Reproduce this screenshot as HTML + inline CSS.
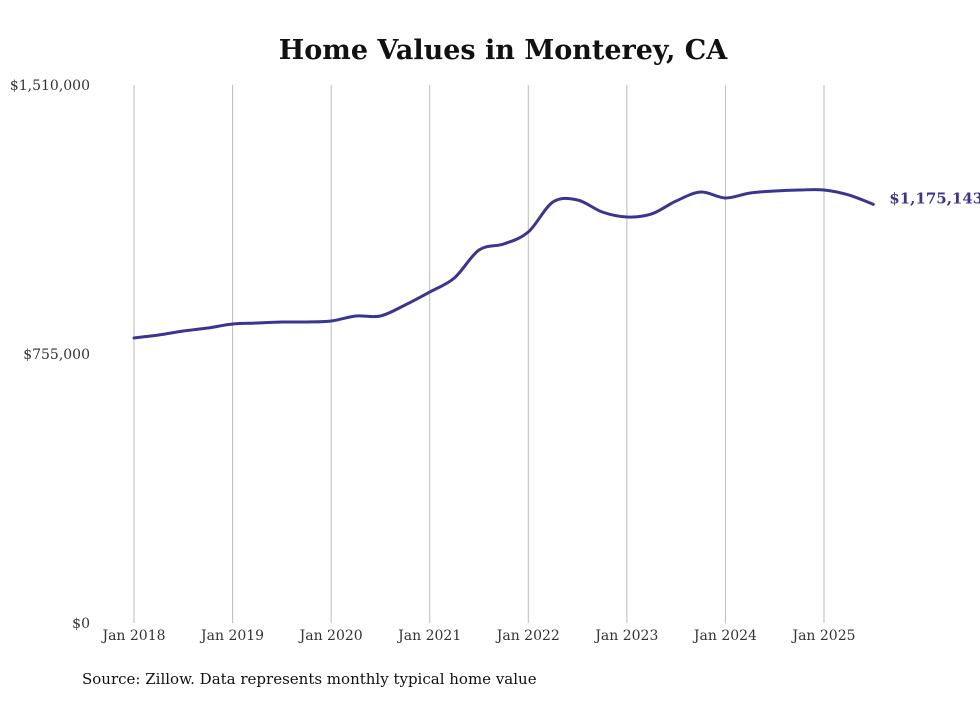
<!DOCTYPE html>
<html><head><meta charset="utf-8"><style>
body{margin:0;background:#fff;}
svg text{font-family:"DejaVu Serif",serif;}
</style></head><body>
<svg width="980" height="699" viewBox="0 0 980 699">
<text x="503" y="59" text-anchor="middle" font-size="27" font-weight="bold" fill="#111">Home Values in Monterey, CA</text>
<g id="grid"></g>
<g id="yaxis"></g>
<g id="xaxis"></g>
<path id="line" fill="none" stroke="#3b3591" stroke-width="3" stroke-linejoin="round" stroke-linecap="round"/>
<text id="endlabel" font-size="15" font-weight="bold" fill="#3b3591"></text>
<text x="82" y="684" font-size="15" fill="#111">Source: Zillow. Data represents monthly typical home value</text>
</svg>
<script>
const months=[0,3,6,9,12,15,18,21,24,27,30,33,36,39,42,45,48,51,54,57,60,63,66,69,72,75,78,81,84,87,90];
const values=[800000,808300,819600,828000,839200,842000,844800,844800,847600,861700,861700,892500,929000,968300,1046900,1063700,1097400,1181600,1187200,1153500,1139500,1148000,1184400,1209700,1192800,1206900,1212500,1215300,1215300,1201300,1175143];
const yTicks=[0,755000,1510000];
const yTickLabels=["$0","$755,000","$1,510,000"];
const xTickLabels=["Jan 2018","Jan 2019","Jan 2020","Jan 2021","Jan 2022","Jan 2023","Jan 2024","Jan 2025"];
const NS="http://www.w3.org/2000/svg";
const x=m=>134+m*(824-134)/84;
const y=v=>623-v*(623-85)/1510000;
const grid=document.getElementById('grid'),xa=document.getElementById('xaxis'),ya=document.getElementById('yaxis');
xTickLabels.forEach((l,i)=>{
 const ln=document.createElementNS(NS,'line');
 ln.setAttribute('x1',x(i*12));ln.setAttribute('x2',x(i*12));ln.setAttribute('y1',85);ln.setAttribute('y2',623);
 ln.setAttribute('stroke','#bbb');ln.setAttribute('stroke-width','1');
 
 
 grid.appendChild(ln);
 const t=document.createElementNS(NS,'text');
 t.setAttribute('x',x(i*12));t.setAttribute('y',640);t.setAttribute('text-anchor','middle');t.setAttribute('font-size','14');t.setAttribute('fill','#333');
 t.textContent=l;
 
 
 xa.appendChild(t);
});
yTicks.forEach((v,i)=>{
 const t=document.createElementNS(NS,'text');
 t.setAttribute('x',90);t.setAttribute('y',y(v)+5);t.setAttribute('text-anchor','end');t.setAttribute('font-size','14');t.setAttribute('fill','#333');
 t.textContent=yTickLabels[i];
 
 
 ya.appendChild(t);
});
const pts=months.map((m,i)=>[x(m),y(values[i])]);
let d='M'+pts[0][0]+','+pts[0][1];
for(let i=0;i<pts.length-1;i++){
 const p0=pts[Math.max(0,i-1)],p1=pts[i],p2=pts[i+1],p3=pts[Math.min(pts.length-1,i+2)];
 const c1=[p1[0]+(p2[0]-p0[0])/6,p1[1]+(p2[1]-p0[1])/6];
 const c2=[p2[0]-(p3[0]-p1[0])/6,p2[1]-(p3[1]-p1[1])/6];
 d+=' C'+c1+' '+c2+' '+p2;
}
document.getElementById('line').setAttribute('d',d);
const last=pts[pts.length-1];
const el=document.getElementById('endlabel');
el.setAttribute('x',last[0]+16);el.setAttribute('y',last[1]-1);
el.textContent='$'+values[values.length-1].toLocaleString('en-US');
</script>
</body></html>
